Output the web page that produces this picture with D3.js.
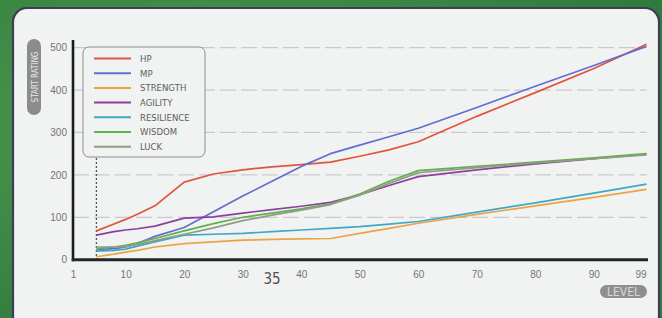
<!DOCTYPE html>
<html>
<head>
<meta charset="utf-8">
<script src="https://cdn.jsdelivr.net/npm/d3@7"></script>
<style>
  body { margin: 0; background: #3e8a46; }
  svg { display: block; font-family: 'Liberation Sans Narrow', 'DejaVu Sans Condensed', sans-serif; }
</style>
</head>
<body>
<svg id="chart" width="662" height="318"></svg>
<script>
const levels = [5, 8, 10, 12, 15, 20, 25, 30, 35, 40, 45, 50, 55, 60, 70, 80, 90, 99];

const hp         = [68, 84, 95, 107, 127, 183, 202, 212, 219, 224, 230, 244, 259, 278, 338, 394, 451, 508];
const mp         = [24, 26, 30, 38, 55, 76, 113, 150, 185, 220, 250, 270, 290, 310, 359, 409, 458, 503];
const strength   = [7, 13, 18, 22, 30, 38, 42, 46, 48, 49, 50, 62, 74, 86, 107, 127, 147, 166];
const agility    = [58, 66, 70, 73, 79, 98, 101, 110, 118, 126, 135, 153, 175, 196, 212, 226, 238, 249];
const resilience = [20, 22, 25, 32, 42, 58, 60, 62, 66, 70, 74, 78, 84, 90, 112, 134, 157, 178];
const wisdom     = [26, 30, 34, 40, 50, 68, 85, 100, 110, 120, 132, 155, 185, 210, 220, 230, 240, 250];
const luck       = [30, 30, 31, 36, 45, 60, 75, 92, 105, 117, 130, 152, 180, 205, 217, 228, 238, 247];

const seriesNames = ['HP', 'MP', 'STRENGTH', 'AGILITY', 'RESILIENCE', 'WISDOM', 'LUCK'];
const seriesValues = [hp, mp, strength, agility, resilience, wisdom, luck];
const seriesColors = ['#e2553c', '#5f6fd2', '#eaa446', '#8e3f9e', '#3fa9c4', '#62b04a', '#8f9d86'];

const xTicks = [1, 10, 20, 30, 40, 50, 60, 70, 80, 90, 99];
const yTicks = [0, 100, 200, 300, 400, 500];
const startLevel = 5;

const svg = d3.select('#chart');

// green page behind the panel
const defs = svg.append('defs');
const bg = defs.append('radialGradient').attr('id', 'bg').attr('cx', '30%').attr('cy', '40%').attr('r', '80%');
bg.append('stop').attr('offset', '0%').attr('stop-color', '#4f9a50');
bg.append('stop').attr('offset', '100%').attr('stop-color', '#2f7a3c');
svg.append('rect').attr('width', 662).attr('height', 318).attr('fill', 'url(#bg)');

// white rounded panel
svg.append('rect')
  .attr('x', 13).attr('y', 8).attr('width', 646).attr('height', 322)
  .attr('rx', 14)
  .attr('fill', '#f1f2f2')
  .attr('stroke', '#3a3f55').attr('stroke-width', 2.2);

const x = d3.scaleLinear().domain([1, 99]).range([73, 646.5]);
const y = d3.scaleLinear().domain([0, 518]).range([259.7, 40]);

// grid
svg.append('g')
  .selectAll('line')
  .data(yTicks.filter(d => d > 0))
  .join('line')
  .attr('x1', x(1)).attr('x2', x(99))
  .attr('y1', d => y(d)).attr('y2', d => y(d))
  .attr('stroke', '#c9cacb').attr('stroke-width', 1.3)
  .attr('stroke-dasharray', '16,5');

// y tick labels
svg.append('g')
  .attr('transform', `translate(${x(1)},0)`)
  .call(d3.axisLeft(y).tickValues(yTicks).tickSize(0).tickPadding(6))
  .call(g => g.select('.domain').remove())
  .selectAll('text')
  .attr('font-size', 10).attr('fill', '#747474')
  .attr('font-family', null);

// x tick labels
svg.append('g')
  .attr('transform', `translate(0,${y(0)})`)
  .call(d3.axisBottom(x).tickValues(xTicks).tickSize(0).tickPadding(11))
  .call(g => g.select('.domain').remove())
  .selectAll('text')
  .attr('font-size', 10).attr('fill', '#747474')
  .attr('font-family', null)
  .attr('dx', d => d === 99 ? -6 : 0);

// dotted start-level marker
svg.append('line')
  .attr('x1', x(startLevel)).attr('x2', x(startLevel))
  .attr('y1', 158).attr('y2', y(0))
  .attr('stroke', '#555').attr('stroke-width', 1.3)
  .attr('stroke-dasharray', '2,2');

// stat lines
const line = d3.line()
  .x((d, i) => x(levels[i]))
  .y(d => y(d));

svg.append('g')
  .selectAll('path')
  .data(seriesValues)
  .join('path')
  .attr('fill', 'none')
  .attr('stroke', (d, i) => seriesColors[i])
  .attr('stroke-width', 1.7)
  .attr('stroke-linejoin', 'round')
  .attr('d', line);

// heavy axis lines
svg.append('line')
  .attr('x1', x(1)).attr('x2', x(1))
  .attr('y1', y(518)).attr('y2', y(0) + 1.5)
  .attr('stroke', '#1c1c1c').attr('stroke-width', 2.6);
svg.append('line')
  .attr('x1', x(1) - 1.3).attr('x2', 648)
  .attr('y1', y(0)).attr('y2', y(0))
  .attr('stroke', '#22262a').attr('stroke-width', 3);

// legend
const legend = svg.append('g').attr('transform', 'translate(83,47)');
legend.append('rect')
  .attr('width', 122).attr('height', 110).attr('rx', 6)
  .attr('fill', '#f1f2f2').attr('stroke', '#8d8d8d').attr('stroke-width', 1);

const item = legend.selectAll('g.item')
  .data(seriesNames)
  .join('g')
  .attr('class', 'item')
  .attr('transform', (d, i) => `translate(0,${11.5 + i * 14.7})`);

item.append('line')
  .attr('x1', 11).attr('x2', 48)
  .attr('stroke', (d, i) => seriesColors[i])
  .attr('stroke-width', 2);

item.append('text')
  .attr('x', 57).attr('dy', '0.35em')
  .attr('font-size', 9.5).attr('fill', '#5e5e5e')
  .text(d => d);

// axis title pills
svg.append('rect')
  .attr('x', 27).attr('y', 39).attr('width', 14).attr('height', 76).attr('rx', 7)
  .attr('fill', '#8c8c8c');
svg.append('text')
  .attr('transform', 'translate(37.5,77) rotate(-90)')
  .attr('text-anchor', 'middle')
  .attr('font-size', 8).attr('fill', '#e8e8e8')
  .text('START RATING');

svg.append('rect')
  .attr('x', 600).attr('y', 285).attr('width', 47).attr('height', 13).attr('rx', 6.5)
  .attr('fill', '#8e8e8e');
svg.append('text')
  .attr('x', 623.5).attr('y', 295.5)
  .attr('text-anchor', 'middle')
  .attr('font-size', 12).attr('fill', '#eeeeee')
  .attr('stroke', '#9a9a9a').attr('stroke-width', 0.3)
  .text('LEVEL');

// page number printed over the axis
svg.append('text')
  .attr('x', 272).attr('y', 284)
  .attr('text-anchor', 'middle')
  .attr('font-size', 15).attr('fill', '#505050')
  .text('35');
</script>
</body>
</html>
